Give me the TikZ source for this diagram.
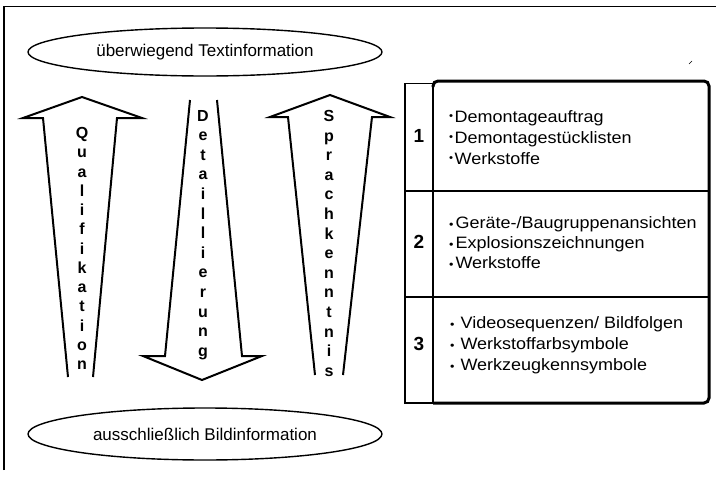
\documentclass[tikz,border=0pt]{standalone}
\usepackage{fontspec}
\setmainfont{Liberation Sans}
\newfontfamily\itemfont{Liberation Sans}[FakeStretch=1.09]
\usetikzlibrary{shapes.geometric}

% bullets: raised small dot (row 1), centred dot (rows 2 and 3)
\newcommand\highdot{\raisebox{2.5pt}{\fontsize{10.5}{10}\selectfont\textbullet}\hspace{1.5pt}}
\newcommand\middot{{\fontsize{11.5}{11}\selectfont\textbullet}\hspace{2pt}}
\newcommand\middotwide{{\fontsize{11.5}{11}\selectfont\textbullet}\hspace{6pt}}

\begin{document}
\begin{tikzpicture}[x=1pt,y=-1pt,
  oval/.style={draw, ellipse, line width=1.4pt, minimum width=354pt,
    inner sep=0pt, font=\fontsize{17}{20}\selectfont},
  bigarrow/.style={draw, line width=2pt, line join=miter, fill=white},
  letter/.style={anchor=base, inner sep=0pt, font=\fontsize{16}{18}\selectfont\bfseries},
  rownum/.style={anchor=base, inner sep=0pt, font=\fontsize{19}{20}\selectfont\bfseries},
  entry/.style={anchor=base west, inner sep=0pt, font=\itemfont\fontsize{16.5}{20}\selectfont},
  rule/.style={line width=1.1pt},
  heavy/.style={line width=3pt, rounded corners=5pt}
]
\useasboundingbox (0,0) rectangle (716,477);

% page frame (top and left edge)
\draw[line width=1.2pt] (4,470) -- (4,6.5) -- (716,6.5);
\draw[line width=0.6pt] (689,64) -- (692,61);

% the two poles
\node[oval, minimum height=48pt] (textpole) at (205,52) {überwiegend Textinformation};
\node[oval, minimum height=52pt] (imagepole) at (205,434) {ausschließlich Bildinformation};

% three tapering arrows
\draw[bigarrow] (68,377) -- (43,118) -- (23,118) -- (82,97) -- (142,118) -- (117,118) -- (93,377);
\draw[bigarrow] (190,100) -- (165,356) -- (143,356) -- (202,380) -- (262,356) -- (242,356) -- (217,100);
\draw[bigarrow] (315,375) -- (288,117) -- (270,117) -- (330,95) -- (390,117) -- (372,117) -- (343,375);

% vertical lettering
\foreach \ch [count=\i from 0] in {Q,u,a,l,i,f,i,k,a,t,i,o,n}
  \node[letter] (qual\i) at (82, 138.5+19.25*\i) {\ch};
\foreach \ch [count=\i from 0] in {D,e,t,a,i,l,l,i,e,r,u,n,g}
  \node[letter] (det\i) at (203, 121+19.6*\i) {\ch};
\foreach \ch [count=\i from 0] in {S,p,r,a,c,h,k,e,n,n,t,n,i,s}
  \node[letter] (spr\i) at (329, 121.5+19.6*\i) {\ch};

% table: number column and row rules
\draw[rule] (433,83.5) -- (405,83.5) -- (405,403) -- (433,403);
\draw[rule] (433,83) -- (433,403);
\draw[rule] (405,191) -- (709,191);
\draw[rule] (405,297) -- (709,297);
% heavy outline of the content column
\draw[heavy] (433,87) -- (433,81) -- (709,81) -- (709,403) -- (433,403);

% row numbers
\node[rownum] (num1) at (419,142.5) {1};
\node[rownum] (num2) at (419,248.5) {2};
\node[rownum] (num3) at (419,350.5) {3};

% row 1
\node[entry] (r1a) at (449,122) {\highdot Demontageauftrag};
\node[entry] (r1b) at (449,143) {\highdot Demontagestücklisten};
\node[entry] (r1c) at (449,164) {\highdot Werkstoffe};
% row 2
\node[entry] (r2a) at (449,228) {\middot Geräte-/Baugruppenansichten};
\node[entry] (r2b) at (449,248.5) {\middot Explosionszeichnungen};
\node[entry] (r2c) at (449,268) {\middot Werkstoffe};
% row 3
\node[entry] (r3a) at (450,328.5) {\middotwide Videosequenzen/ Bildfolgen};
\node[entry] (r3b) at (450,349.5) {\middotwide Werkstoffarbsymbole};
\node[entry] (r3c) at (450,370.5) {\middotwide Werkzeugkennsymbole};
\end{tikzpicture}
\end{document}
